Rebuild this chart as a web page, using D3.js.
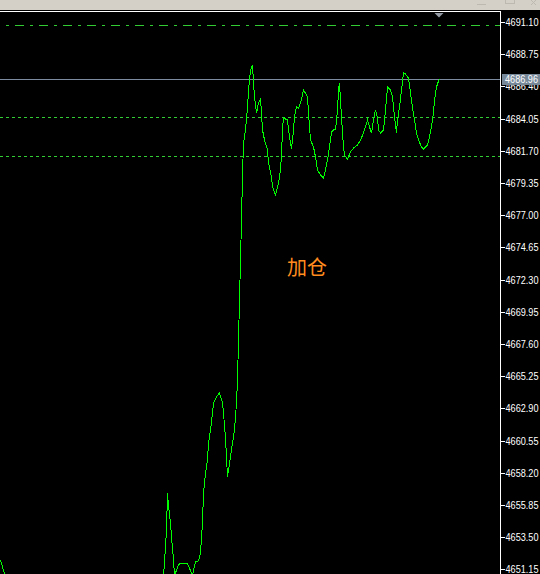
<!DOCTYPE html>
<html>
<head>
<meta charset="utf-8">
<script src="https://cdn.jsdelivr.net/npm/d3@7"></script>
<style>
  html, body { margin: 0; padding: 0; background: #000; }
  svg { display: block; }
</style>
</head>
<body>
<div id="chart"></div>
<script>
// bar position (time offset) and close price of each sample
const bars = [0, 4, 7, 60, 120, 162, 164, 166, 167, 168, 170, 171, 172, 173, 174, 176, 178, 179, 187, 189, 192, 195, 198,
  200, 202, 203, 205, 207, 208, 210, 212, 213, 216, 219, 222, 223, 225, 226, 227, 228, 230, 232, 234, 236, 237, 239, 241,
  242, 243, 245, 247, 248, 250, 252, 253, 254, 256, 257, 258, 260, 261, 262, 264, 267, 268, 271, 272, 275, 277, 279,
  281, 282, 283, 287, 288, 290, 291, 293, 294, 296, 298, 300, 302, 303, 307, 308, 310, 313, 315, 317, 320, 323, 325,
  327, 329, 331, 333, 335, 337, 338, 339, 341, 343, 344, 347, 350, 353, 357, 360, 363, 365, 367, 369, 371, 373, 375,
  377, 378, 380, 383, 385, 387, 390, 392, 394, 396, 397, 399, 401, 403, 405, 408, 410, 412, 414, 416, 418, 421, 423,
  427, 429, 431, 433, 434, 436, 438, 439];
const closes = [4651.83, 4650.81, 4649.64, 4648.91, 4649.28, 4649.64, 4651.68, 4654.02, 4656.72, 4655.77, 4654.53, 4653.51,
  4652.71, 4651.83, 4650.66, 4651.10, 4651.46, 4651.54, 4651.54, 4651.22, 4650.74, 4651.68, 4651.78,
  4652.34, 4654.53, 4656.72, 4658.18, 4659.13, 4660.37, 4661.32, 4662.56, 4663.29, 4663.73, 4664.02, 4663.29, 4662.56,
  4660.74, 4659.35, 4657.89, 4658.40, 4659.35, 4660.37, 4661.32, 4663.29, 4664.97, 4670.81, 4676.65,
  4679.93, 4682.27, 4683.22, 4684.82, 4686.14, 4687.60, 4687.96, 4686.72, 4685.63, 4684.46, 4684.82, 4685.19, 4685.48,
  4684.46, 4683.22, 4682.49, 4681.76, 4680.81, 4679.79, 4679.06, 4678.47, 4679.06, 4679.71,
  4681.25, 4683.36, 4684.09, 4683.95, 4683.22, 4682.27, 4681.83, 4683.22, 4684.17, 4684.90, 4684.82, 4685.19, 4685.77,
  4686.14, 4685.63, 4684.46, 4682.49, 4681.98, 4681.25, 4680.30, 4679.93, 4679.71, 4680.30,
  4681.03, 4681.98, 4683.07, 4683.22, 4683.22, 4684.68, 4686.14, 4686.65, 4684.17, 4681.98, 4681.39, 4681.10, 4681.61,
  4681.90, 4682.12, 4682.49, 4683.00, 4683.44, 4683.95, 4683.44, 4683.00, 4683.95, 4684.68,
  4684.07, 4683.22, 4683.00, 4683.22, 4684.68, 4686.36, 4686.14, 4685.63, 4684.17, 4683.00, 4683.95, 4684.90, 4686.14,
  4687.38, 4687.30, 4687.01, 4685.92, 4684.82, 4683.95, 4683.00, 4682.49, 4681.98, 4681.83,
  4682.12, 4682.71, 4683.44, 4684.46, 4685.41, 4686.36, 4686.79, 4686.96];

const priceTicks = [4691.10, 4688.75, 4686.40, 4684.05, 4681.70, 4679.35, 4677.00, 4674.65, 4672.30,
  4669.95, 4667.60, 4665.25, 4662.90, 4660.55, 4658.20, 4655.85, 4653.50, 4651.15];

const bidPrice = 4686.96;
const levelTop = 4690.88;      // dash-dot line
const levelMid = 4684.14;      // dashed line
const levelLow = 4681.33;      // dashed line
const note = "加仓";
const notePrice = 4672.6;
const noteBar = 287;

const width = 540, height = 574;
const plotTop = 12, plotRight = 500;

const svg = d3.select("#chart").append("svg")
  .attr("width", width)
  .attr("height", height);

svg.append("rect").attr("width", width).attr("height", height).attr("fill", "#000");

// title bar strip
svg.append("rect").attr("width", width).attr("height", 10).attr("fill", "#d4d0c8");
const icons = svg.append("g").attr("stroke", "#bdb9b1").attr("fill", "none").attr("shape-rendering", "crispEdges");
icons.append("line").attr("x1", 477).attr("x2", 486).attr("y1", 4.5).attr("y2", 4.5);
icons.append("path").attr("d", "M505.5,0V3.5H514.5V0");
icons.append("path").attr("d", "M531,0L536,5M536,0L531,5");

const x = d3.scaleLinear().domain([0, 500]).range([0, plotRight]);
const y = d3.scaleLinear().domain([4651.15, 4691.10]).range([569.3, 22]);

svg.append("clipPath").attr("id", "plot")
  .append("rect").attr("x", 0).attr("y", plotTop).attr("width", plotRight).attr("height", height - plotTop);

const plot = svg.append("g").attr("clip-path", "url(#plot)");

const hline = (price, color, dash, offset) => plot.append("line")
  .attr("x1", 0).attr("x2", plotRight)
  .attr("y1", Math.round(y(price)) + 0.5).attr("y2", Math.round(y(price)) + 0.5)
  .attr("stroke", color)
  .attr("stroke-width", 1)
  .attr("stroke-dasharray", dash)
  .attr("stroke-dashoffset", offset || 0)
  .attr("shape-rendering", "crispEdges");

hline(levelTop, "#32cd32", "3,6,9,6", 18);
hline(levelMid, "#32cd32", "3,3", 0);
hline(levelLow, "#32cd32", "3,3", 0);
hline(bidPrice, "#7d8ba0", null);

const line = d3.line()
  .x((d, i) => x(bars[i]) + 0.5)
  .y(d => y(d));

plot.append("path")
  .datum(closes)
  .attr("fill", "none")
  .attr("stroke", "#00ff00")
  .attr("stroke-width", 1)
  .attr("shape-rendering", "crispEdges")
  .attr("d", line);

plot.append("text")
  .attr("x", x(noteBar))
  .attr("y", y(notePrice))
  .attr("fill", "#ff8c1e")
  .attr("font-family", "'Noto Sans CJK SC', sans-serif")
  .attr("font-size", 20)
  .text(note);

// shift marker
const lastX = x(bars[bars.length - 1]);
svg.append("path")
  .attr("d", `M${lastX - 4.5},13H${lastX + 4.5}L${lastX},17.5Z`)
  .attr("fill", "#959ca6");

// frame
svg.append("line").attr("x1", 0).attr("x2", plotRight + 1).attr("y1", 11.5).attr("y2", 11.5)
  .attr("stroke", "#fff").attr("shape-rendering", "crispEdges");

const axis = d3.axisRight(y)
  .tickValues(priceTicks)
  .tickFormat(d3.format(".2f"))
  .tickSizeInner(4)
  .tickSizeOuter(0)
  .tickPadding(1);

const ag = svg.append("g")
  .attr("transform", `translate(${plotRight + 0.5},0)`)
  .call(axis);
ag.select(".domain").attr("d", `M0,${plotTop}V${height}`).attr("stroke", "#fff");
ag.selectAll(".tick line").attr("stroke", "#fff").attr("shape-rendering", "crispEdges");
ag.selectAll(".tick text")
  .attr("fill", "#fff")
  .attr("font-family", "'Liberation Sans', Arial, sans-serif")
  .attr("font-size", 11)
  .attr("textLength", 33)
  .attr("lengthAdjust", "spacingAndGlyphs");

// bid price label
const by = Math.round(y(bidPrice));
svg.append("rect")
  .attr("x", 502).attr("y", by - 5).attr("width", 38).attr("height", 11)
  .attr("fill", "#778899");
svg.append("text")
  .attr("x", 505).attr("y", by)
  .attr("dy", "0.36em")
  .attr("fill", "#fff")
  .attr("font-family", "'Liberation Sans', Arial, sans-serif")
  .attr("font-size", 11)
  .attr("textLength", 33)
  .attr("lengthAdjust", "spacingAndGlyphs")
  .text(d3.format(".2f")(bidPrice));
</script>
</body>
</html>
